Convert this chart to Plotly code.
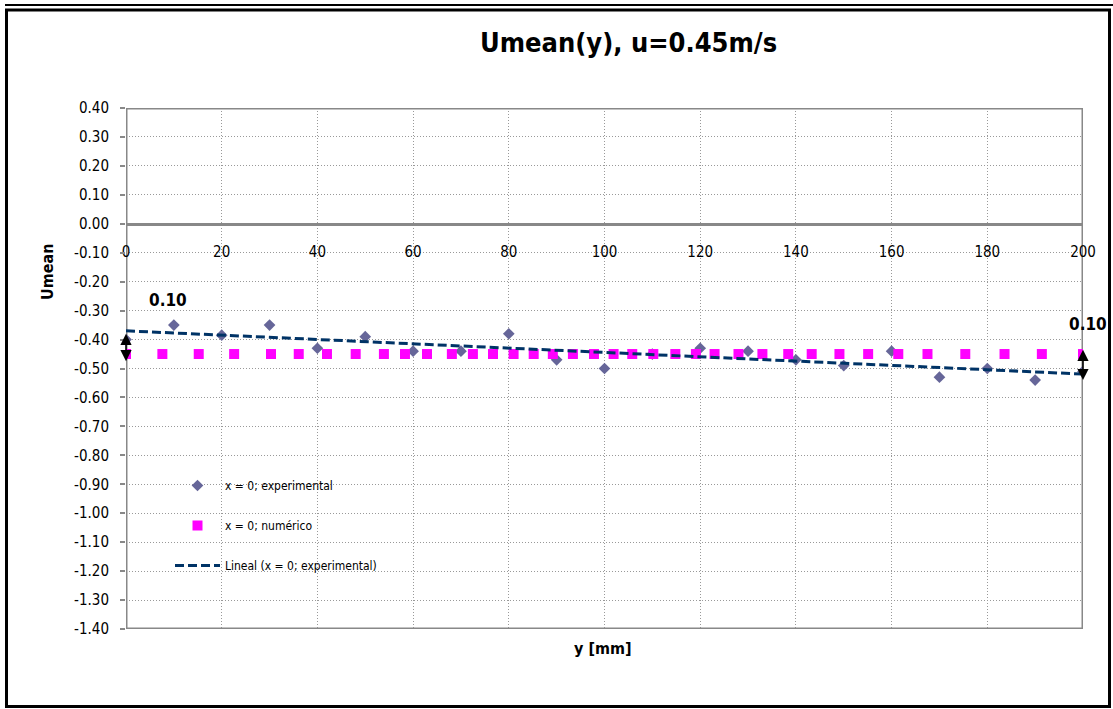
import numpy as np
import plotly.graph_objects as go

# ---------------- data ----------------
y_exp = [0, 10, 20, 30, 40, 50, 60, 70, 80, 90, 100,
         110, 120, 130, 140, 150, 160, 170, 180, 190, 200]
u_exp = [-0.40, -0.35, -0.385, -0.35, -0.43, -0.39, -0.44, -0.44, -0.38, -0.47, -0.50,
         -0.45, -0.43, -0.44, -0.47, -0.49, -0.44, -0.53, -0.50, -0.54, -0.51]

y_num = [0, 7.6, 15.2, 22.6, 30.3, 36.1, 42.0, 48.0, 53.9, 58.3, 62.9, 68.1, 72.5,
         76.7, 81.0, 85.2, 89.2, 93.4, 97.8, 101.9, 105.8, 110.2, 114.8, 119.1,
         123.0, 128.0, 133.0, 138.4, 143.3, 149.1, 155.1, 161.4, 167.5, 175.4,
         183.6, 191.4, 200]
u_num = [-0.45] * len(y_num)

y_ticks = [-1.4, -1.3, -1.2, -1.1, -1.0, -0.9, -0.8, -0.7, -0.6, -0.5, -0.4,
           -0.3, -0.2, -0.1, 0.0, 0.1, 0.2, 0.3, 0.4]
x_ticks = [0, 20, 40, 60, 80, 100, 120, 140, 160, 180, 200]

title_text = "Umean(y), u=0.45m/s"
names = ["x = 0; experimental", "x = 0; numérico", "Lineal (x = 0; experimental)"]
delta_label = "0.10"

# linear trend of experimental series
coef = np.polyfit(y_exp, u_exp, 1)
trend_x = [min(y_exp), max(y_exp)]
trend_y = list(np.polyval(coef, trend_x))

# ---------------- layout geometry ----------------
W, H = 1113, 709
L, R, T, B = 126, 1113 - 1083, 108, 709 - 629
pw, ph = W - L - R, H - T - B


def px(xp):
    return (xp - L) / pw


def py(yp):
    return (H - B - yp) / ph


FONT = "DejaVu Sans Condensed, Liberation Sans Narrow, Arial Narrow, Liberation Sans, Arial, sans-serif"
GREY = "#888888"
GRID = "#999999"

fig = go.Figure()
fig.add_trace(go.Scatter(
    x=y_exp, y=u_exp, mode="markers", name=names[0], legendgroup="a",
    marker=dict(symbol="diamond", size=9, color="#666699"),
))
fig.add_trace(go.Scatter(
    x=y_num, y=u_num, mode="markers", name=names[1], legendgroup="b",
    marker=dict(symbol="square", size=10, color="#FF00FF"),
))
fig.add_trace(go.Scatter(
    x=trend_x, y=trend_y, mode="lines", name=names[2], legendgroup="c",
    line=dict(color="#003366", width=3, dash="9px,4px"),
))

fig.update_layout(
    width=W, height=H,
    margin=dict(l=L, r=R, t=T, b=B),
    paper_bgcolor="white", plot_bgcolor="white",
    font=dict(family=FONT, color="black", size=14),
    showlegend=True,
    legend=dict(
        x=px(170), y=py(471), xanchor="left", yanchor="top",
        bgcolor="rgba(0,0,0,0)", font=dict(size=12, family=FONT),
        traceorder="grouped", tracegroupgap=21, itemwidth=45,
    ),
    xaxis=dict(
        range=[0, 200], tickvals=x_ticks, ticktext=[str(v) for v in x_ticks],
        showgrid=True, gridcolor=GRID, griddash="1px,2px", gridwidth=1,
        zeroline=False, anchor="free", position=(0 - (-1.4)) / 1.8,
        showline=True, linecolor=GREY, linewidth=3, ticks="",
        ticklabelstandoff=13, tickfont=dict(size=15, family=FONT),
        layer="below traces",
    ),
    yaxis=dict(
        range=[-1.4, 0.4], tickvals=y_ticks,
        ticktext=["%.2f" % v for v in y_ticks],
        showgrid=True, gridcolor=GRID, griddash="1px,2px", gridwidth=1,
        zeroline=False, showline=False, ticks="outside", ticklen=5,
        tickcolor=GREY, tickwidth=2, tickfont=dict(size=15, family=FONT),
        ticklabelstandoff=8,
        layer="below traces",
    ),
)

# plot-area border
fig.add_shape(type="rect", xref="x", yref="y", x0=0, x1=200, y0=-1.4, y1=0.4,
              line=dict(color=GREY, width=3), layer="between")
# outer chart frame
fig.add_shape(type="rect", xref="paper", yref="paper",
              x0=px(6.5), x1=px(1109.5), y0=py(706.5), y1=py(10),
              line=dict(color="black", width=3))
fig.add_shape(type="line", xref="paper", yref="paper",
              x0=px(5), x1=px(1113), y0=py(5), y1=py(5),
              line=dict(color="black", width=2))

# titles
fig.add_annotation(text="<b>" + title_text + "</b>", xref="paper", yref="paper",
                   x=px(628), y=py(42), xanchor="center", yanchor="middle",
                   showarrow=False, font=dict(size=27, family=FONT))
fig.add_annotation(text="<b>y [mm]</b>", xref="paper", yref="paper",
                   x=px(603), y=py(648), xanchor="center", yanchor="middle",
                   showarrow=False, font=dict(size=16, family=FONT))
fig.add_annotation(text="<b>Umean</b>", xref="paper", yref="paper",
                   x=px(47), y=py(272), xanchor="center", yanchor="middle",
                   showarrow=False, textangle=-90,
                   font=dict(size=16, family=FONT))

# 0.10 markers with double arrows
fig.add_annotation(text="<b>" + delta_label + "</b>", xref="paper", yref="paper",
                   x=px(168), y=py(300), xanchor="center", yanchor="middle",
                   showarrow=False, font=dict(size=17, family=FONT))
fig.add_annotation(text="<b>" + delta_label + "</b>", xref="paper", yref="paper",
                   x=px(1088), y=py(324), xanchor="center", yanchor="middle",
                   showarrow=False, font=dict(size=17, family=FONT))
fig.add_annotation(text="", x=0, y=-0.475, ax=0, ay=-0.375, axref="x", ayref="y",
                   showarrow=True, arrowhead=2, startarrowhead=2,
                   arrowside="end+start", arrowwidth=1.6, arrowcolor="black",
                   arrowsize=1.4, startarrowsize=1.4)
fig.add_annotation(text="", x=200, y=-0.54, ax=200, ay=-0.43, axref="x", ayref="y",
                   showarrow=True, arrowhead=2, startarrowhead=2,
                   arrowside="end+start", arrowwidth=1.6, arrowcolor="black",
                   arrowsize=1.4, startarrowsize=1.4)

fig.write_html(
    "out.html",
    config={"displayModeBar": False},
    post_script="document.body.style.margin='0';document.body.style.overflow='hidden';",
)
